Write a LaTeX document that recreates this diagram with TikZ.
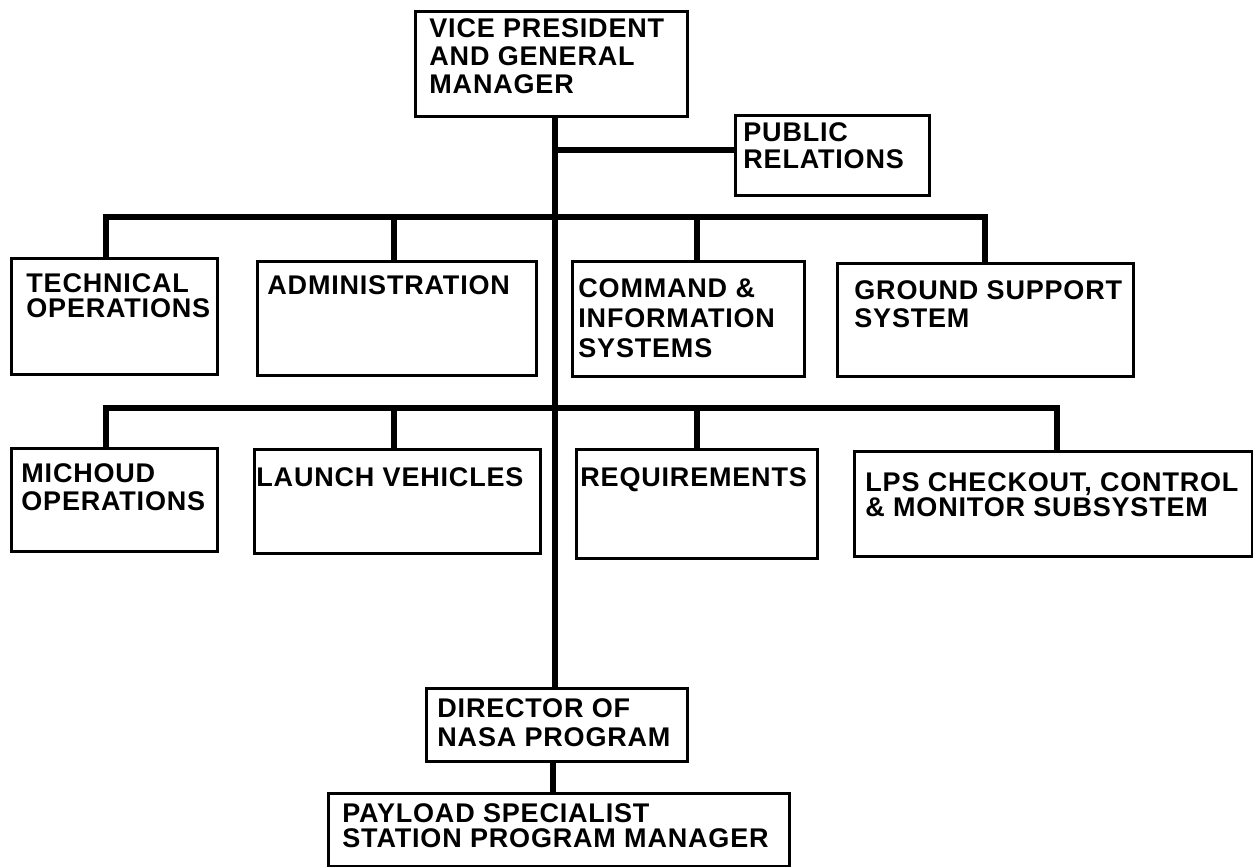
\documentclass[tikz,border=0pt]{standalone}
\usepackage{fontspec}
\newfontfamily\orgfont[LetterSpace=3]{Liberation Sans}
\usetikzlibrary{calc}
\newcommand\orgunit[5]{%
  \node[unitbox, minimum width={#4*0.5pt}, minimum height={#5*0.5pt}] (#1) at (#2,#3) {};}
\begin{document}
\begin{tikzpicture}[x=0.5pt,y=-0.5pt,
  unitbox/.style={draw, line width=1.4pt, inner sep=0pt, anchor=north west},
  boxtext/.style={anchor=north west, align=left, inner sep=0pt, lead=14pt},
  lead/.style={font=\orgfont\bfseries\fontsize{13.5pt}{#1}\selectfont},
  link/.style={line width=2.8pt, line cap=rect, line join=miter}]
\useasboundingbox (0,0) rectangle (1253,867);

% boxes
\orgunit{vp}{414}{10}{272}{105}
\orgunit{pr}{734}{114}{194}{80}
\orgunit{to}{10}{257}{206}{116}
\orgunit{adm}{256}{260}{279}{114}
\orgunit{cis}{571}{260}{232}{115}
\orgunit{gss}{836}{262}{296}{113}
\orgunit{mo}{10}{447}{206}{103}
\orgunit{lv}{253}{448}{286}{104}
\orgunit{req}{575}{448}{241}{109}
\orgunit{lps}{853}{450}{398}{105}
\orgunit{dir}{425}{687}{261}{73}
\orgunit{pay}{327}{792}{461}{73}

% labels
\node[boxtext] (vp-t) at (429,18.5) {VICE PRESIDENT\\AND GENERAL\\MANAGER};
\node[boxtext,lead=13.5pt] (pr-t) at (743,122.5) {PUBLIC\\RELATIONS};
\node[boxtext,lead=12.5pt] (to-t) at (26,273.5) {TECHNICAL\\OPERATIONS};
\node[boxtext] (adm-t) at (267,275.5) {ADMINISTRATION};
\node[boxtext,lead=15pt] (cis-t) at (578,278.5) {COMMAND \&\\INFORMATION\\SYSTEMS};
\node[boxtext] (gss-t) at (854,280.5) {GROUND SUPPORT\\SYSTEM};
\node[boxtext] (mo-t) at (21,463.5) {MICHOUD\\OPERATIONS};
\node[boxtext] (lv-t) at (256,467.5) {LAUNCH VEHICLES};
\node[boxtext] (req-t) at (580,467.5) {REQUIREMENTS};
\node[boxtext,lead=12.5pt] (lps-t) at (865,472.5) {LPS CHECKOUT, CONTROL\\\& MONITOR SUBSYSTEM};
\node[boxtext,lead=14.5pt] (dir-t) at (437,698.5) {DIRECTOR OF\\NASA PROGRAM};
\node[boxtext,lead=12.5pt] (pay-t) at (342,803.5) {PAYLOAD SPECIALIST\\STATION PROGRAM MANAGER};

% main trunk and public relations branch
\coordinate (trunk) at (555,0);
\draw[link] (vp.south -| trunk) -- (dir.north -| trunk);
\coordinate (prj) at (555,150);
\draw[link] (prj) -- (prj -| pr.west);

% first bus
\coordinate (a1) at (106,217);
\coordinate (a2) at (394,217);
\coordinate (a3) at (697,217);
\coordinate (a4) at (985,217);
\draw[link] (a1 |- to.north) -- (a1) -- (a4) -- (a4 |- gss.north);
\draw[link] (a2) -- (a2 |- adm.north);
\draw[link] (a3) -- (a3 |- cis.north);

% second bus
\coordinate (b1) at (106,408);
\coordinate (b2) at (394,408);
\coordinate (b3) at (697,408);
\coordinate (b4) at (1057,408);
\draw[link] (b1 |- mo.north) -- (b1) -- (b4) -- (b4 |- lps.north);
\draw[link] (b2) -- (b2 |- lv.north);
\draw[link] (b3) -- (b3 |- req.north);

% director to payload manager
\coordinate (stem) at (553,0);
\draw[link] (dir.south -| stem) -- (pay.north -| stem);
\end{tikzpicture}
\end{document}
